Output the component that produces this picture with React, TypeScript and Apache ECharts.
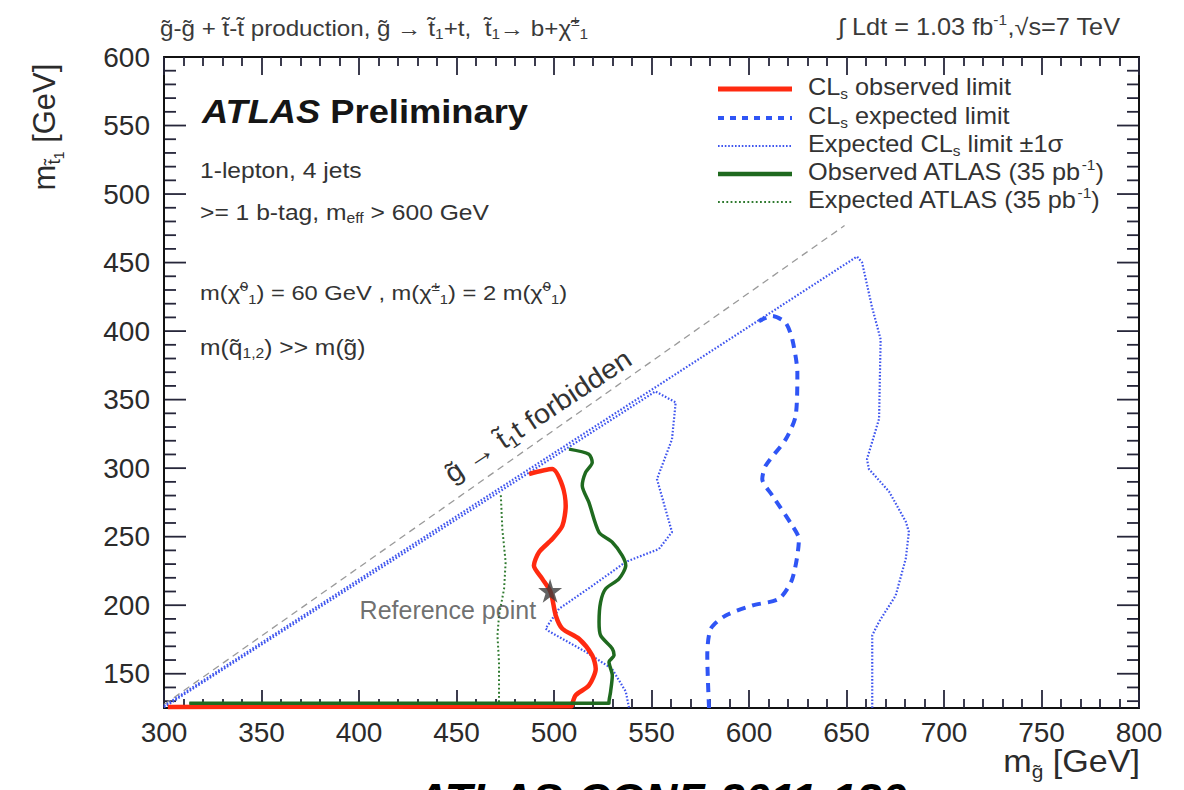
import React, { useEffect, useRef } from "react";
import * as echarts from "echarts";

const FONT = '"Liberation Sans", Arial, Helvetica, sans-serif';
const TXT = "#2b2b2b";
const TICK = "#26263a";

// Axis ranges and tick labels (GeV)
const X_MIN = 300;
const X_MAX = 800;
const Y_MIN = 125;
const Y_MAX = 600;
const xTickLabels = [300, 350, 400, 450, 500, 550, 600, 650, 700, 750, 800];
const yTickLabels = [150, 200, 250, 300, 350, 400, 450, 500, 550, 600];

// Exclusion contours in the (m_gluino, m_stop1) plane, [GeV, GeV]
const observedCLs: [number, number][] = [
  [302, 125.8], [509, 126.3], [509.4, 128.2], [511.1, 134.3], [517.9, 141.5],
  [521.4, 153.7], [519.6, 163.4], [512.8, 175.5], [504.3, 182.8], [500.9, 192.5],
  [498.3, 209.5], [494, 219.2], [489.7, 228.9], [492.3, 238.7], [499.1, 248.3],
  [504.3, 258], [506, 272.6], [504.3, 287.2], [499.1, 299.3], [487.2, 295.7],
];

const expectedCLs: [number, number][] = [
  [579.5, 125], [578.6, 163.4], [580.4, 182.8], [588.1, 192.5], [601.7, 199.8],
  [615.4, 204.7], [622.2, 219.2], [625.6, 248.3], [622.2, 258], [612, 280],
  [606.8, 292], [608.5, 301.7], [618.8, 321], [623.9, 338], [624.8, 369.7],
  [622.2, 394], [618.8, 406], [612, 411], [605.1, 407.3],
];

const expectedPlus1Sigma: [number, number][] = [
  [300, 126.5], [655.4, 454.4], [658, 450], [663, 418], [667.5, 394],
  [666.7, 336], [660.5, 306.6], [661.5, 299.3], [671.8, 283], [680.4, 261],
  [682, 253.4], [680.4, 234], [675.2, 207], [666.7, 188], [663.2, 178],
  [663.2, 125],
];

const expectedMinus1Sigma: [number, number][] = [
  [300, 125.5], [552, 356], [562.4, 348], [560.5, 321], [552.8, 292],
  [560.5, 253.4], [553.8, 241], [536.8, 231.6], [519.5, 214], [502.6, 197.4],
  [495.7, 183], [497.4, 181], [516.2, 166], [529.7, 153.7], [536.8, 137],
  [538.5, 125],
];

const observedAtlas35: [number, number][] = [
  [313, 128.5], [528.2, 128.5], [528.2, 129.4], [529, 136.7], [529.9, 148.8],
  [528.2, 158.6], [530.8, 163.4], [529.9, 168.3], [523.9, 178], [523.1, 187.7],
  [523.9, 202.3], [526.5, 212], [533.3, 219.2], [536.8, 228.9], [535, 236.2],
  [529.9, 246], [523.1, 253.2], [517.9, 275.1], [514.5, 287.2], [516.2, 296.9],
  [519.6, 304.2], [517.9, 310.2], [507.7, 313.9],
];

const expectedAtlas35: [number, number][] = [
  [313, 128.5], [471.8, 128.5], [471.8, 131.8], [471.8, 158.6], [471, 178],
  [471.8, 192.5], [474.4, 212], [475.2, 231.4], [473.5, 255.6], [472.7, 281.1],
];

// gluino -> stop1 + top kinematic boundary
const kinematicLimit: [number, number][] = [
  [300, 127.5], [649, 477],
];

const referencePoint: [number, number][] = [[498, 210.5]];

// vertical-axis tick positions: major every 50 GeV, minor every 10 GeV
const yMajorTicks = yTickLabels;
const yMinorTicks: number[] = [];
for (let v = 130; v < Y_MAX; v += 10) if (v % 50 !== 0) yMinorTicks.push(v);

const COLORS = {
  red: "#ff2a10",
  blueDash: "#2f55f5",
  blueDot: "#3f55ee",
  green: "#1f6a1f",
  greenDot: "#2f7a2f",
  grey: "#9a9a9a",
};

const STAR =
  "path://M50,0 L61.2,34.5 L97.6,34.5 L68.2,55.9 L79.4,90.5 L50,69.1 L20.6,90.5 L31.8,55.9 L2.4,34.5 L38.8,34.5 Z";

function richStyles(size: number, color: string) {
  const small = Math.round(size * 0.62);
  return {
    n: { fontSize: size, fontFamily: FONT, fill: color },
    sb: { fontSize: small, fontFamily: FONT, fill: color, padding: [Math.round(size * 0.6), 0, 0, 0] },
    ssb: { fontSize: Math.round(size * 0.45), fontFamily: FONT, fill: color, padding: [Math.round(size * 0.95), 0, 0, 0] },
    sp: { fontSize: small, fontFamily: FONT, fill: color, padding: [0, 0, Math.round(size * 0.6), 0] },
    b: { fontSize: size, fontFamily: FONT, fill: color, fontWeight: "bold" },
    bi: { fontSize: size, fontFamily: FONT, fill: color, fontWeight: "bold", fontStyle: "italic" },
  };
}

function richText(
  x: number,
  y: number,
  text: string,
  size: number,
  color: string,
  opts: { align?: string; rotation?: number; scaleX?: number } = {}
) {
  const align = opts.align ?? "left";
  return {
    type: "text",
    x,
    y,
    rotation: opts.rotation ?? 0,
    scaleX: opts.scaleX ?? 1,
    silent: true,
    style: {
      text,
      rich: richStyles(size, color),
      fontSize: size,
      fontFamily: FONT,
      fill: color,
      align,
      textAlign: align,
      verticalAlign: "middle",
      textVerticalAlign: "middle",
    },
  };
}

function legendLine(y: number, color: string, width: number, dash?: number[]) {
  return {
    type: "line",
    silent: true,
    shape: { x1: 718, y1: y, x2: 792, y2: y },
    style: { stroke: color, lineWidth: width, lineDash: dash ?? null },
  };
}

function lineSeries(
  name: string,
  data: [number, number][],
  color: string,
  width: number,
  type: any,
  z: number,
  smooth = 0
) {
  return {
    name,
    type: "line",
    data,
    showSymbol: false,
    symbol: "none",
    clip: false,
    smooth,
    z,
    lineStyle: { color, width, type, cap: "butt", join: "round" },
    emphasis: { disabled: true },
  };
}

export default function App() {
  const ref = useRef<HTMLDivElement | null>(null);

  useEffect(() => {
    if (!ref.current) return;
    const chart = echarts.init(ref.current, null, { renderer: "svg" });

    const legendRows = [89, 118, 146, 174, 202];
    const sx = 1.1;

    const frameAxis = (extra: any) => ({
      type: "value",
      axisLine: { show: true, onZero: false, lineStyle: { color: "#111", width: 2 } },
      splitLine: { show: false },
      ...extra,
    });
    const xTicks = {
      axisTick: { show: true, inside: true, length: 18, lineStyle: { color: TICK, width: 1.8 } },
      minorTick: { show: true, splitNumber: 5, length: 9, lineStyle: { color: TICK, width: 1.8 } },
    };

    const option: any = {
      animation: false,
      textStyle: { fontFamily: FONT },
      grid: { left: 164, right: 45, top: 57, bottom: 82, containLabel: false },
      xAxis: [
        frameAxis({
          position: "bottom",
          min: X_MIN,
          max: X_MAX,
          interval: 50,
          ...xTicks,
          axisLabel: {
            show: true,
            margin: 10,
            fontSize: 28,
            color: TXT,
            fontFamily: FONT,
            formatter: (v: number) => (xTickLabels.includes(v) ? String(v) : ""),
          },
        }),
        frameAxis({
          position: "top",
          min: X_MIN,
          max: X_MAX,
          interval: 50,
          ...xTicks,
          axisLabel: { show: false },
        }),
      ],
      yAxis: [
        frameAxis({
          position: "left",
          min: Y_MIN,
          max: Y_MAX,
          axisTick: { show: false },
          axisLabel: {
            show: true,
            margin: 14,
            fontSize: 28,
            color: TXT,
            fontFamily: FONT,
            customValues: yTickLabels,
          },
        }),
        frameAxis({ position: "right", min: Y_MIN, max: Y_MAX, axisTick: { show: false }, axisLabel: { show: false } }),
      ],
      series: [
        lineSeries("kinematic limit", kinematicLimit, COLORS.grey, 1.3, [7, 5], 2),
        lineSeries("Expected CLs limit +1σ", expectedPlus1Sigma, COLORS.blueDot, 2.2, [1.6, 1.8], 3),
        lineSeries("Expected CLs limit -1σ", expectedMinus1Sigma, COLORS.blueDot, 2.2, [1.6, 1.8], 3),
        lineSeries("Expected ATLAS (35 pb-1)", expectedAtlas35, COLORS.greenDot, 2, [1.8, 2.4], 3),
        lineSeries("CLs observed limit", observedCLs, COLORS.red, 4.5, "solid", 4, 0.25),
        lineSeries("Observed ATLAS (35 pb-1)", observedAtlas35, COLORS.green, 3.5, "solid", 5, 0.25),
        lineSeries("CLs expected limit", expectedCLs, COLORS.blueDash, 4, [9, 7], 4, 0.25),
        {
          name: "Reference point",
          type: "scatter",
          data: referencePoint,
          symbol: STAR,
          symbolSize: 24,
          z: 6,
          itemStyle: { color: "#3c3c3c" },
          label: {
            show: true,
            position: "left",
            distance: 2,
            offset: [0, 19],
            formatter: "Reference point",
            fontSize: 25,
            fontFamily: FONT,
            color: "#4a4a4a",
          },
          emphasis: { disabled: true },
        },
      ],
    };

    chart.setOption(option);

    // Inward tick marks on the left and right sides, placed through the axes' scales
    const toPx = (x: number, y: number) =>
      chart.convertToPixel({ xAxisIndex: 0, yAxisIndex: 0 }, [x, y]) as number[];
    const ticks: any[] = [];
    const seg = (x1: number, y1: number, x2: number, y2: number) => {
      ticks.push({
        type: "line",
        shape: { x1, y1, x2, y2 },
        style: { stroke: TICK, lineWidth: 1.8 },
      });
    };
    const addY = (v: number, len: number) => {
      const l = toPx(X_MIN, v);
      const r = toPx(X_MAX, v);
      seg(l[0], l[1], l[0] + len, l[1]);
      seg(r[0], r[1], r[0] - len, r[1]);
    };
    yMajorTicks.forEach((v) => addY(v, 22));
    yMinorTicks.forEach((v) => addY(v, 12));

    const texts: any[] = [
      // header
      richText(
        160,
        28,
        "{n|g̃-g̃ + t̃-t̃ production, g̃ → t̃}{sb|1}{n|+t,  t̃}{sb|1}{n|→ b+χ̃}{sp|±}{sb|1}",
        22,
        "#3a3a3a",
        { scaleX: sx }
      ),
      richText(1120, 27, "{n|∫ Ldt = 1.03 fb}{sp|-1}{n|,√s=7 TeV}", 23, "#3a3a3a", {
        align: "right",
        scaleX: sx,
      }),
      // experiment label and selection
      richText(202, 112, "{bi|ATLAS}{b| Preliminary}", 33, "#151515", { scaleX: sx }),
      richText(200, 170, "{n|1-lepton, 4 jets}", 22, "#333", { scaleX: 1.12 }),
      richText(200, 212, "{n|>= 1 b-tag, m}{sb|eff}{n| > 600 GeV}", 22, "#333", { scaleX: 1.12 }),
      richText(
        200,
        293,
        "{n|m(χ̃}{sp|0}{sb|1}{n|) = 60 GeV , m(χ̃}{sp|±}{sb|1}{n|) = 2 m(χ̃}{sp|0}{sb|1}{n|)}",
        21,
        "#333",
        { scaleX: 1.13 }
      ),
      richText(200, 347, "{n|m(q̃}{sb|1,2}{n|) >> m(g̃)}", 22, "#333", { scaleX: 1.12 }),
      // forbidden region label along the kinematic boundary
      richText(538, 416, "{n|g̃ → t̃}{sb|1}{n|t forbidden}", 27, "#333", {
        align: "center",
        rotation: 0.585,
        scaleX: 1.08,
      }),
      // legend
      legendLine(legendRows[0], COLORS.red, 5),
      legendLine(legendRows[1], COLORS.blueDash, 4, [6, 6]),
      legendLine(legendRows[2], COLORS.blueDot, 2.2, [1.6, 1.8]),
      legendLine(legendRows[3], COLORS.green, 4.5),
      legendLine(legendRows[4], COLORS.greenDot, 2, [1.8, 2.4]),
      richText(808, legendRows[0] - 2, "{n|CL}{sb|s}{n| observed limit}", 23, "#333", { scaleX: sx }),
      richText(808, legendRows[1] - 2, "{n|CL}{sb|s}{n| expected limit}", 23, "#333", { scaleX: sx }),
      richText(808, legendRows[2] - 2, "{n|Expected CL}{sb|s}{n| limit ±1σ}", 23, "#333", { scaleX: sx }),
      richText(808, legendRows[3] - 2, "{n|Observed ATLAS (35 pb}{sp|-1}{n|)}", 23, "#333", { scaleX: sx }),
      richText(808, legendRows[4] - 2, "{n|Expected ATLAS (35 pb}{sp|-1}{n|)}", 23, "#333", { scaleX: sx }),
      // axis titles
      richText(1140, 762, "{n|m}{sb|g̃}{n| [GeV]}", 31, "#2b2b2b", { align: "right", scaleX: 1.1 }),
      richText(44, 127, "{n|m}{sb|t̃}{ssb|1}{n| [GeV]}", 31, "#2b2b2b", {
        align: "center",
        rotation: Math.PI / 2,
      }),
      // conference note reference
      {
        type: "text",
        x: 661,
        y: 799,
        silent: true,
        style: {
          text: "ATLAS-CONF-2011-130",
          fontSize: 45,
          fontWeight: "bold",
          fontStyle: "italic",
          fontFamily: FONT,
          fill: "#000",
          align: "center",
          textAlign: "center",
          verticalAlign: "middle",
          textVerticalAlign: "middle",
        },
      },
    ];

    chart.setOption({ graphic: [...ticks, ...texts] });
    return () => chart.dispose();
  }, []);

  return (
    <div
      ref={ref}
      style={{ position: "absolute", left: 0, top: 0, width: 1184, height: 790, background: "#fff" }}
    />
  );
}
